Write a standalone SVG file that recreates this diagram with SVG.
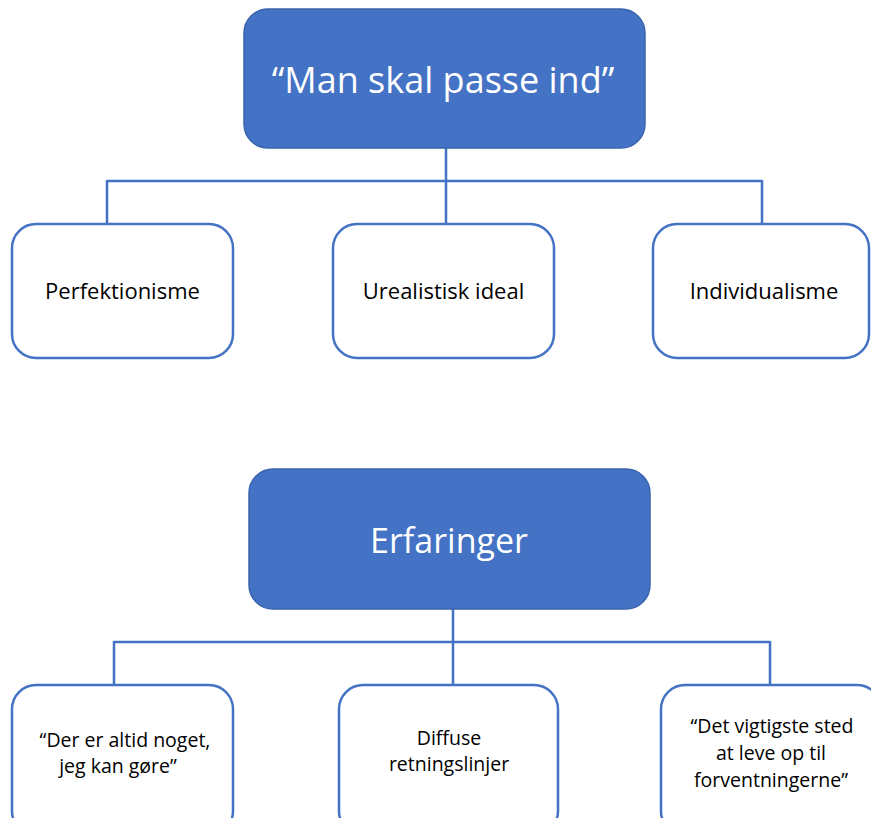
<svg xmlns="http://www.w3.org/2000/svg" width="871" height="818" viewBox="0 0 871 818">
<style>
.main{fill:#4472C4;stroke:#3A64AE;stroke-width:1.5}
.child{fill:#FFFFFF;stroke:#4472C4;stroke-width:2.5}
.conn{fill:none;stroke:#4472C4;stroke-width:2.5}
.mt{font-family:"Open Sans","Liberation Sans",sans-serif;fill:#FFFFFF;text-anchor:middle}
.ct{font-family:"Open Sans","Liberation Sans",sans-serif;fill:#000000;text-anchor:middle;font-size:19.5px}
.ct1{font-family:"Open Sans","Liberation Sans",sans-serif;fill:#000000;text-anchor:middle;font-size:22px}
</style>
<rect width="871" height="818" fill="#FFFFFF"/>
<g id="connectors">
<path class="conn" d="M446 148 V181 M107 181 H762 M107 180 V224 M446 181 V224 M762 180 V224"/>
<path class="conn" d="M453 609 V642 M114 642 H770 M114 641 V685 M453 642 V685 M770 641 V685"/>
</g>
<g id="n-man">
<rect class="main" x="244" y="9" width="401" height="139" rx="24"/>
<text class="mt" x="443" y="93" font-size="36">“Man skal passe ind”</text>
</g>
<g id="n-perf">
<rect class="child" x="12" y="224" width="221" height="134" rx="24"/>
<text class="ct1" x="122.5" y="299">Perfektionisme</text>
</g>
<g id="n-ureal">
<rect class="child" x="333" y="224" width="221" height="134" rx="24"/>
<text class="ct1" x="443.5" y="299">Urealistisk ideal</text>
</g>
<g id="n-indiv">
<rect class="child" x="653" y="224" width="216" height="134" rx="24"/>
<text class="ct1" x="764" y="299">Individualisme</text>
</g>
<g id="n-erf">
<rect class="main" x="249" y="469" width="401" height="140" rx="24"/>
<text class="mt" x="449" y="553" font-size="34">Erfaringer</text>
</g>
<g id="n-der">
<rect class="child" x="12" y="685" width="221" height="150" rx="24"/>
<text class="ct" x="125" y="747">“Der er altid noget,</text>
<text class="ct" x="118" y="773">jeg kan gøre”</text>
</g>
<g id="n-diff">
<rect class="child" x="339" y="685" width="219" height="150" rx="24"/>
<text class="ct" x="449" y="745">Diffuse</text>
<text class="ct" x="449" y="771">retningslinjer</text>
</g>
<g id="n-det">
<rect class="child" x="661" y="685" width="220" height="150" rx="24"/>
<text class="ct" x="772" y="733">“Det vigtigste sted</text>
<text class="ct" x="771" y="760">at leve op til</text>
<text class="ct" x="771" y="787">forventningerne”</text>
</g>
</svg>
